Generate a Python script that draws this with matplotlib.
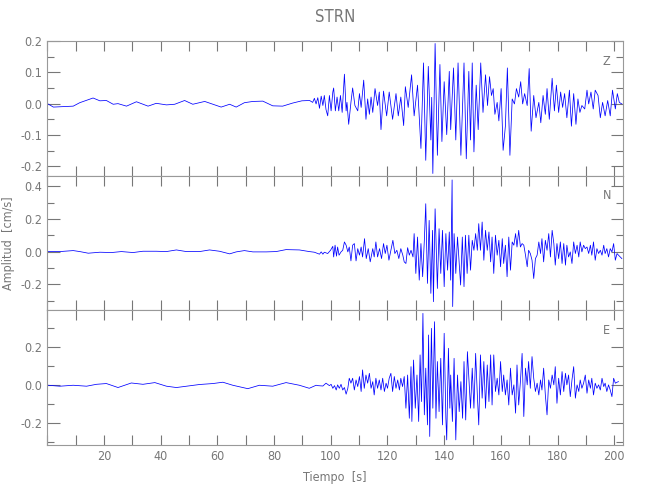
import numpy as np
import matplotlib
matplotlib.use("Agg")
import matplotlib.pyplot as plt
from matplotlib.ticker import MultipleLocator

# velocity records, STRN station (time in s, amplitude in cm/s)
z_t = [0.0, 2.1, 9.1, 11.4, 16.1, 18.5, 20.8, 23.2, 24.9, 27.9, 31.4, 35.5, 38.4, 42.0,
       44.9, 48.4, 51.3, 55.5, 58.4, 61.3, 64.3, 66.6, 69.5, 72.5, 76.0, 79.5, 83.0, 86.6,
       89.8, 92.5, 93.6, 94.2, 94.8, 95.4, 96.0, 96.6, 97.2, 97.7, 98.3, 98.9, 99.5, 100.1,
       100.7, 101.0, 101.6, 102.2, 102.8, 103.4, 104.0, 104.8, 105.4, 105.7, 106.3, 107.1,
       107.7, 108.5, 109.5, 110.1, 110.7, 111.6, 112.4, 113.0, 113.6, 114.2, 114.8, 115.6,
       116.5, 117.1, 117.7, 118.6, 119.7, 120.6, 121.8, 123.0, 123.8, 124.7, 125.7, 126.3,
       127.3, 128.5, 129.4, 130.6, 131.8, 132.7, 133.5, 134.4, 135.3, 135.6, 136.0, 136.8,
       137.6, 138.5, 139.2, 140.0, 140.9, 141.8, 142.3, 143.3, 144.1, 144.9, 145.9, 147.0,
       147.8, 148.7, 149.3, 149.9, 150.5, 151.3, 152.0, 152.9, 153.7, 154.6, 155.3, 156.0,
       156.7, 157.3, 157.9, 158.7, 159.3, 160.1, 160.8, 161.6, 162.3, 163.2, 164.0, 164.8,
       165.5, 166.3, 167.0, 167.7, 168.4, 169.3, 170.0, 170.7, 171.6, 172.4, 173.4, 174.1,
       174.9, 175.7, 176.3, 177.1, 178.1, 178.9, 179.6, 180.4, 181.1, 181.8, 182.5, 183.3,
       184.2, 184.9, 185.7, 186.5, 187.2, 187.9, 188.6, 189.6, 190.4, 191.0, 191.8, 192.6,
       193.3, 194.3, 195.1, 195.9, 196.8, 197.7, 198.6, 199.4, 200.4, 201.1, 201.8, 202.7]
z_v = [0.000, -0.011, -0.008, 0.003, 0.018, 0.009, 0.010, -0.002, 0.000, -0.008, 0.006,
       -0.008, 0.001, -0.004, -0.002, 0.010, -0.002, 0.007, -0.002, -0.011, -0.002, -0.011,
       0.003, 0.007, 0.008, -0.007, -0.008, 0.002, 0.009, 0.010, 0.004, 0.017, -0.001, 0.019,
       -0.015, 0.024, -0.006, 0.026, -0.019, -0.039, 0.026, -0.023, 0.037, 0.050, -0.023,
       0.021, -0.023, 0.026, -0.028, 0.094, -0.023, 0.004, -0.066, 0.004, 0.050, -0.006,
       -0.023, 0.032, -0.012, 0.075, -0.050, 0.015, -0.034, 0.021, -0.028, 0.048, -0.006,
       0.037, -0.083, 0.040, -0.039, 0.037, -0.050, 0.032, -0.039, 0.021, -0.070, 0.054,
       -0.012, 0.092, -0.039, 0.059, -0.143, 0.130, -0.181, 0.119, -0.116, 0.020, -0.223,
       0.192, -0.165, 0.125, -0.121, 0.070, -0.099, 0.103, -0.083, 0.114, -0.116, 0.130,
       -0.165, 0.130, -0.176, 0.103, -0.116, 0.130, -0.154, 0.059, -0.083, 0.130, -0.028,
       0.092, -0.006, 0.086, 0.026, 0.048, -0.034, 0.004, -0.055, 0.048, -0.149, -0.072,
       0.114, -0.165, 0.015, -0.001, 0.048, 0.021, 0.070, -0.001, 0.032, -0.006, 0.112,
       -0.088, 0.026, -0.045, 0.004, -0.061, 0.026, -0.034, 0.048, -0.050, 0.081, -0.023,
       0.059, -0.028, 0.037, -0.012, 0.032, -0.045, 0.043, -0.072, 0.032, -0.066, 0.015,
       -0.028, -0.006, -0.017, 0.043, -0.001, 0.037, -0.017, 0.043, 0.026, -0.045, 0.004,
       -0.039, 0.010, -0.039, 0.043, -0.017, 0.032, 0.004, -0.001]

n_t = [0.3, 4.4, 9.1, 11.4, 14.4, 18.5, 22.6, 26.1, 30.2, 33.7, 38.4, 42.0, 45.5, 49.0,
       53.7, 57.2, 60.7, 64.3, 66.6, 69.5, 72.5, 77.2, 80.7, 84.2, 88.9, 92.4, 94.2, 96.0,
       96.6, 97.2, 97.7, 98.9, 99.9, 100.7, 101.0, 101.5, 102.0, 102.4, 102.9, 103.6, 104.2,
       104.8, 105.4, 106.0, 106.5, 107.1, 107.7, 108.3, 108.9, 109.5, 110.1, 110.7, 111.2,
       111.9, 112.5, 113.2, 113.9, 114.8, 115.3, 115.9, 116.5, 117.2, 117.9, 118.6, 119.2,
       119.8, 120.5, 121.2, 121.9, 122.6, 123.3, 124.0, 124.7, 125.4, 125.9, 126.5, 127.1,
       127.7, 128.3, 129.0, 129.4, 130.0, 130.6, 131.2, 131.8, 132.4, 133.0, 133.5, 134.1,
       134.7, 135.3, 135.9, 136.2, 136.8, 137.6, 138.2, 138.8, 139.4, 140.0, 140.6, 141.2,
       141.8, 142.3, 142.8, 143.0, 143.5, 144.1, 144.7, 145.8, 146.4, 147.0, 147.5, 148.1,
       148.7, 149.3, 149.9, 150.5, 151.1, 151.7, 152.2, 152.8, 153.4, 154.0, 154.6, 155.2,
       155.8, 156.4, 156.9, 157.5, 158.1, 158.7, 159.3, 159.9, 160.5, 161.0, 161.6, 162.2,
       162.8, 163.4, 164.0, 164.6, 165.2, 165.7, 166.3, 166.9, 167.5, 168.1, 168.7, 169.3,
       169.8, 170.4, 171.0, 171.6, 172.2, 172.8, 173.4, 174.0, 174.5, 175.1, 175.7, 176.3,
       176.9, 177.5, 178.1, 178.7, 179.2, 179.8, 180.4, 181.0, 181.6, 182.2, 182.8, 183.3,
       183.9, 184.5, 185.1, 185.7, 186.3, 186.9, 187.5, 188.0, 188.6, 189.2, 189.8, 190.4,
       191.0, 191.6, 192.1, 192.7, 193.3, 193.9, 194.5, 195.1, 195.7, 196.3, 196.8, 197.4,
       198.0, 198.6, 199.2, 199.8, 200.4, 201.0, 201.5, 202.7]
n_v = [0.000, 0.000, 0.006, 0.000, -0.010, -0.004, -0.006, 0.000, -0.006, 0.002, 0.002,
       0.000, 0.010, 0.000, 0.000, 0.010, 0.002, -0.014, -0.002, 0.006, -0.002, -0.002,
       0.000, 0.012, 0.010, 0.000, -0.004, -0.016, -0.002, -0.016, -0.004, -0.012, 0.008,
       0.032, -0.033, 0.039, -0.028, 0.028, -0.022, -0.002, 0.008, 0.059, 0.039, -0.002,
       0.028, -0.057, 0.039, 0.049, -0.057, 0.018, -0.022, 0.028, -0.033, 0.079, -0.043,
       0.018, -0.063, 0.018, -0.033, 0.059, -0.033, 0.018, -0.043, 0.049, -0.012, 0.039,
       -0.053, 0.008, 0.069, -0.012, 0.008, -0.043, 0.018, -0.022, -0.063, -0.073, 0.024,
       -0.022, 0.008, -0.033, 0.110, -0.134, 0.089, -0.175, 0.049, -0.154, 0.069, 0.293,
       -0.195, 0.191, -0.256, 0.130, -0.307, 0.262, -0.226, 0.140, -0.134, 0.130, -0.215,
       0.110, -0.114, 0.120, -0.175, 0.439, -0.337, 0.110, -0.134, 0.089, -0.205, 0.089,
       -0.215, 0.100, -0.134, 0.100, -0.114, 0.069, 0.008, 0.110, 0.008, 0.171, 0.008, 0.181,
       -0.053, 0.130, 0.008, 0.120, -0.063, 0.089, -0.134, 0.100, -0.022, 0.069, -0.093,
       0.079, -0.073, 0.039, -0.154, 0.089, -0.114, 0.059, 0.039, 0.110, 0.028, 0.130, 0.028,
       0.049, 0.039, -0.022, -0.093, 0.008, -0.012, -0.053, -0.165, -0.043, -0.022, 0.059,
       -0.012, 0.079, -0.063, 0.069, 0.008, 0.110, -0.033, 0.130, 0.049, -0.083, 0.049,
       -0.043, 0.059, -0.073, 0.049, -0.083, 0.039, -0.033, -0.002, -0.073, 0.059, -0.012,
       0.039, -0.033, 0.059, -0.002, 0.039, 0.018, 0.028, -0.012, 0.039, -0.022, 0.059,
       -0.053, 0.018, -0.012, 0.008, -0.022, 0.039, -0.012, 0.018, -0.033, 0.018, -0.002,
       0.049, -0.053, -0.012, -0.022, -0.043]

e_t = [0.3, 4.4, 9.1, 13.8, 17.3, 20.8, 24.9, 29.6, 33.7, 37.9, 42.0, 45.5, 49.0, 53.7,
       58.4, 61.9, 65.4, 70.7, 74.8, 79.5, 84.2, 88.9, 92.4, 94.8, 95.4, 97.2, 98.3, 99.5,
       100.1, 100.7, 101.3, 101.9, 102.4, 103.0, 103.6, 104.2, 104.8, 105.4, 106.0, 106.5,
       107.1, 107.7, 108.3, 108.9, 109.5, 110.1, 110.7, 111.2, 111.8, 112.4, 113.0, 113.6,
       114.2, 114.8, 115.3, 115.9, 116.5, 117.1, 117.7, 118.3, 118.9, 119.5, 120.0, 120.6,
       121.2, 121.8, 122.4, 123.0, 123.6, 124.2, 124.7, 125.3, 125.9, 126.5, 127.1, 127.7,
       128.3, 128.6, 129.2, 129.8, 130.4, 131.0, 131.5, 132.0, 132.5, 133.0, 133.5, 134.1,
       134.5, 134.9, 135.5, 136.0, 136.6, 137.1, 137.6, 138.2, 138.8, 139.4, 140.0, 140.6,
       140.9, 141.5, 142.0, 142.3, 142.9, 143.5, 144.1, 144.7, 145.3, 145.9, 146.5, 147.0,
       147.6, 148.2, 149.3, 149.9, 150.5, 151.1, 151.7, 152.2, 152.8, 153.4, 154.0, 154.6,
       155.2, 155.8, 156.4, 156.9, 157.5, 158.1, 158.7, 159.3, 159.9, 160.5, 161.0, 161.6,
       162.2, 162.8, 163.4, 164.0, 164.6, 165.2, 165.7, 166.3, 166.9, 167.5, 168.1, 168.7,
       169.3, 169.8, 170.4, 171.0, 171.6, 172.2, 172.8, 173.4, 174.0, 174.5, 175.1, 175.7,
       176.3, 176.9, 177.5, 178.1, 178.7, 179.2, 179.8, 180.4, 181.0, 181.6, 182.2, 182.8,
       183.3, 183.9, 184.5, 185.1, 185.7, 186.3, 186.9, 187.5, 188.0, 188.6, 189.2, 189.8,
       190.4, 191.0, 191.6, 192.1, 192.7, 193.3, 193.9, 194.5, 195.1, 195.7, 196.3, 196.8,
       197.4, 198.0, 198.6, 199.2, 199.8, 200.4, 201.0, 201.5]
e_v = [0.000, -0.005, 0.000, -0.005, 0.005, 0.009, -0.012, 0.012, 0.005, 0.014, -0.005,
       -0.012, -0.005, 0.004, 0.009, 0.016, 0.000, -0.018, 0.000, -0.005, 0.014, 0.000,
       -0.016, 0.000, -0.002, -0.004, 0.011, -0.002, 0.005, -0.016, -0.002, -0.025, 0.002,
       -0.016, 0.005, -0.025, -0.012, -0.047, -0.016, 0.037, 0.011, 0.037, -0.025, 0.028,
       -0.007, 0.046, -0.033, 0.081, -0.016, 0.054, 0.011, 0.063, -0.016, 0.019, -0.051,
       0.037, -0.016, 0.028, -0.025, 0.037, -0.033, 0.011, -0.016, 0.037, 0.063, -0.033,
       0.046, -0.016, 0.028, -0.025, 0.037, -0.007, 0.046, -0.121, 0.054, -0.174, 0.098,
       -0.191, 0.133, -0.121, 0.054, -0.191, 0.160, -0.086, 0.379, -0.156, 0.090, -0.209,
       0.265, -0.270, 0.300, -0.121, 0.335, -0.174, 0.125, -0.139, 0.142, -0.209, 0.274,
       -0.174, -0.288, 0.195, -0.121, 0.054, -0.191, 0.142, -0.288, 0.054, -0.139, 0.019,
       -0.174, 0.125, -0.183, 0.177, -0.121, 0.090, -0.121, 0.168, -0.051, -0.209, 0.160,
       -0.068, 0.125, -0.121, 0.107, -0.086, 0.160, -0.104, 0.160, -0.033, 0.037, -0.051,
       0.125, -0.033, 0.054, -0.051, 0.028, -0.104, 0.090, -0.051, 0.002, -0.147, 0.107,
       -0.104, 0.019, 0.168, -0.165, 0.090, 0.002, 0.125, -0.016, 0.151, 0.037, -0.033,
       0.011, -0.051, 0.028, -0.025, 0.090, -0.051, -0.156, 0.028, -0.016, 0.054, 0.002,
       0.098, -0.095, 0.037, -0.051, 0.072, -0.033, 0.063, 0.002, 0.054, -0.060, 0.028,
       0.098, -0.068, 0.002, -0.033, 0.028, -0.016, 0.011, 0.054, -0.042, 0.028, -0.016,
       0.037, -0.051, 0.011, -0.016, 0.002, -0.025, 0.037, -0.007, 0.011, -0.033, 0.002,
       -0.025, -0.060, 0.037, 0.011, 0.016, 0.019]

components = ["Z", "N", "E"]
ylims = [(-0.23, 0.2), (-0.36, 0.465), (-0.315, 0.395)]
ymajor = [0.1, 0.2, 0.2]
yminor = [0.05, 0.1, 0.1]

grey = "#777777"
plt.rcParams["font.family"] = ["DejaVu Sans"]
plt.rcParams["font.stretch"] = "condensed"
plt.rcParams["font.size"] = 9

fig = plt.figure(figsize=(6.5, 5), dpi=100)
axes = fig.subplots(3, 1, sharex=True)
fig.subplots_adjust(left=0.073, right=0.958, top=0.918, bottom=0.11, hspace=0)

traces = [(z_t, z_v), (n_t, n_v), (e_t, e_v)]
for i, ax in enumerate(axes):
    t, v = traces[i]
    ax.plot(t, v, color="#0000ff", lw=0.55)
    ax.set_xlim(0, 203)
    ax.set_ylim(*ylims[i])
    ax.xaxis.set_major_locator(MultipleLocator(20))
    ax.xaxis.set_minor_locator(MultipleLocator(10))
    ax.yaxis.set_major_locator(MultipleLocator(ymajor[i]))
    ax.yaxis.set_minor_locator(MultipleLocator(yminor[i]))
    ax.yaxis.set_major_formatter(plt.FormatStrFormatter("%.1f"))
    ax.tick_params(which="both", direction="in", top=True, right=True,
                   color=grey, labelcolor=grey, labelsize=9, width=0.8)
    ax.tick_params(axis="y", which="major", length=9)
    ax.tick_params(axis="y", which="minor", length=5)
    ax.tick_params(axis="x", which="both", length=7)
    for s in ax.spines.values():
        s.set_color("#999999")
        s.set_linewidth(0.8)
    ax.text(0.972, 0.85, components[i], transform=ax.transAxes, ha="center",
            va="center", color=grey, fontsize=9)

axes[0].set_title("STRN", color=grey, fontsize=12, pad=14)
axes[1].set_ylabel("Amplitud  [cm/s]", color=grey, fontsize=9, labelpad=4)
axes[2].set_xlabel("Tiempo  [s]", color=grey, fontsize=9, labelpad=6)
# no label at 0, as in the original
axes[2].set_xticks([20, 40, 60, 80, 100, 120, 140, 160, 180, 200])

fig.savefig("out.png", dpi=100)
